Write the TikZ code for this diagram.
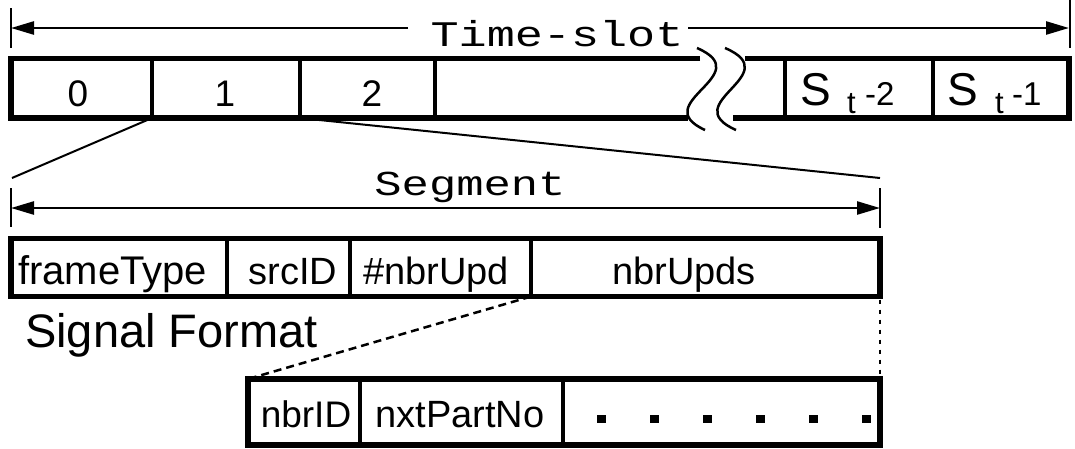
\documentclass[tikz,border=0pt]{standalone}
\usepackage{fontspec}
\setmainfont{Liberation Sans}
\newfontfamily\monofont[FakeStretch=1.3]{Liberation Mono}
\usetikzlibrary{arrows.meta}
\begin{document}
\begin{tikzpicture}[x=1pt,y=-1pt,
  outer/.style={line width=5.5pt},
  divider/.style={line width=4pt},
  slant/.style={line width=2pt},
  dimline/.style={line width=2.5pt},
  wave/.style={line width=2.5pt},
  tiphead/.tip={Triangle[length=23pt,width=13pt]},
  lbl/.style={inner sep=0pt, anchor=base},
  digit/.style={lbl, font=\fontsize{37}{40}\selectfont},
  field/.style={lbl, font=\fontsize{38}{42}\selectfont},
  bigS/.style={inner sep=0pt, anchor=base west, font=\fontsize{46}{50}\selectfont},
  subt/.style={inner sep=0pt, anchor=base west, font=\fontsize{31}{34}\selectfont},
  idx/.style={inner sep=0pt, anchor=base west, font=\fontsize{33}{36}\selectfont},
  mono/.style={lbl, font=\monofont\fontsize{36}{40}\selectfont},
  dotsq/.style={fill=black, inner sep=0pt, minimum width=9pt, minimum height=8pt},
  dashedline/.style={line width=2.5pt, dash pattern=on 8pt off 5pt},
  dottedline/.style={line width=2.5pt, dash pattern=on 4pt off 6pt}
]
\useasboundingbox (0,0) rectangle (1075,448);

% ---------- Time-slot dimension ----------
\coordinate (tsL) at (11,28);
\coordinate (tsR) at (1069,28);
\node[mono] (ts) at (557,46) {Time-slot};
\coordinate (tsLa) at (408,28);
\coordinate (tsRa) at (688,28);
\draw[dimline,-tiphead] (tsLa) -- (tsL);
\draw[dimline,-tiphead] (tsRa) -- (tsR);
\draw[dimline] (11,8) -- (11,48);
\draw[dimline] (1070,0) -- (1070,48);

% ---------- Time-slot bar ----------
\coordinate (bTL) at (11,58.5);
\coordinate (bBL) at (11,118);
\coordinate (bTR) at (1069,58.5);
\coordinate (bBR) at (1069,118);
\draw[outer] (700,58.5) -- (bTL) -- (bBL) -- (688,118);
\draw[outer] (745,58.5) -- (bTR) -- (bBR) -- (733,118);
\foreach \xx/\nm in {152/d1,300/d2,435/d3,785/d4,932.5/d5}{
  \coordinate (\nm top) at (\xx,58.5);
  \coordinate (\nm bot) at (\xx,118);
  \draw[divider] (\nm top) -- (\nm bot);
}
% break marks
\draw[wave] (697,48) .. controls (759,75) and (646,103) .. (705,130);
\draw[wave] (725,48) .. controls (788,75) and (675,103) .. (736,130);

\node[digit] (l0) at (78,106) {0};
\node[digit] (l1) at (225,106) {1};
\node[digit] (l2) at (372,106) {2};

\node[bigS] (s2S) at (800,105) {S};
\node[subt] (s2t) at (847,113) {t};
\node[idx] (s2n) at (865,105) {-2};
\node[bigS] (s1S) at (947,105) {S};
\node[subt] (s1t) at (995,113) {t};
\node[idx] (s1n) at (1012,105) {-1};

% ---------- zoom lines ----------
\coordinate (zL) at (12,178);
\coordinate (zR) at (880,178);
\draw[slant] (d1bot) -- (zL);
\draw[slant] (d2bot) -- (zR);

% ---------- Segment dimension ----------
\node[mono, font=\monofont\fontsize{35}{40}\selectfont] (seg) at (470,195) {Segment};
\coordinate (sgL) at (11,208);
\coordinate (sgR) at (880,208);
\draw[dimline,tiphead-tiphead] (sgL) -- (sgR);
\draw[dimline] (11,188) -- (11,227);
\draw[dimline] (880,188) -- (880,228);

% ---------- Signal format box ----------
\coordinate (sTL) at (11,238.5);
\coordinate (sBR) at (880,296.5);
\draw[outer] (sTL) rectangle (sBR);
\foreach \xx/\nm in {227/e1,350/e2,531/e3}{
  \coordinate (\nm top) at (\xx,238.5);
  \coordinate (\nm bot) at (\xx,296.5);
  \draw[divider] (\nm top) -- (\nm bot);
}
\node[field, anchor=base west, font=\fontsize{40}{44}\selectfont] (ft) at (18,284) {frameType};
\node[field] (src) at (293,284) {srcID};
\node[field] (nup) at (436,284) {\#nbrUpd};
\node[field] (nups) at (684,284) {nbrUpds};
\node[inner sep=0pt, anchor=base west, font=\fontsize{47}{52}\selectfont] (sf) at (25,347) {Signal Format};

% ---------- nbrUpds detail box ----------
\coordinate (uTL) at (248,379);
\coordinate (uTR) at (880,379);
\coordinate (uBR) at (880,445);
\draw[outer] (uTL) rectangle (uBR);
\foreach \xx/\nm in {360/f1,563/f2}{
  \coordinate (\nm top) at (\xx,379);
  \coordinate (\nm bot) at (\xx,445);
  \draw[divider] (\nm top) -- (\nm bot);
}
\draw[dashedline] (e3bot) -- (uTL);
\draw[dottedline] (sBR) ++(0,3) -- (uTR);

\node[field, font=\fontsize{37}{42}\selectfont] (nid) at (306,427) {nbrID};
\node[field, font=\fontsize{38}{42}\selectfont] (npn) at (460,427) {nxtPartNo};
\foreach \i in {0,...,5}{
  \node[dotsq] (dot\i) at (601+53*\i,419) {};
}
\end{tikzpicture}
\end{document}
